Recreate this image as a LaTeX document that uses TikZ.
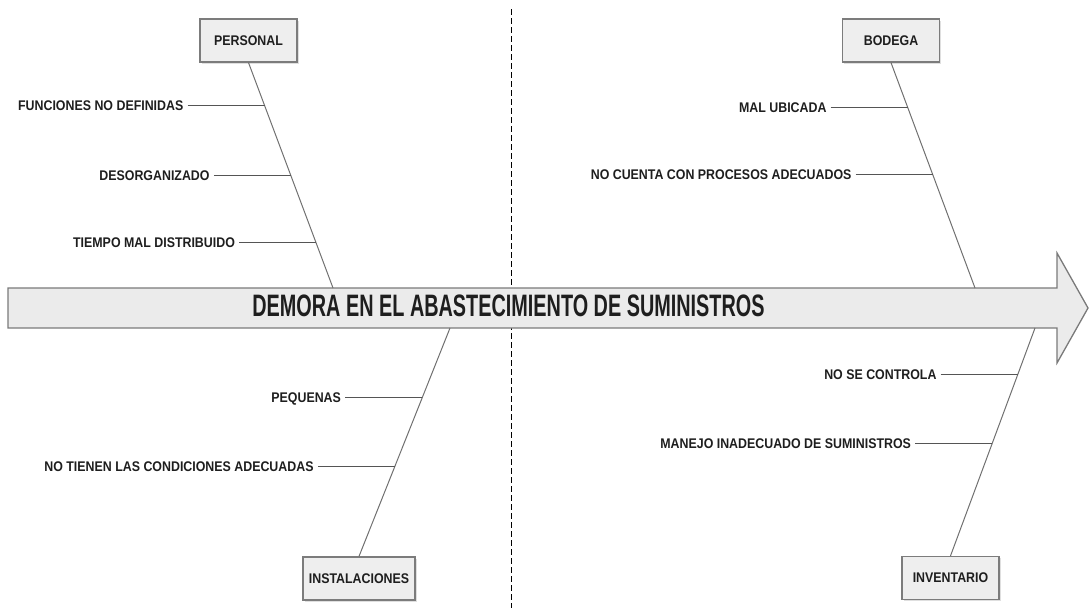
\documentclass[tikz,border=0pt]{standalone}
\usepackage{fontspec}
\setmainfont{Liberation Sans}
\newfontfamily\lblfont{Liberation Sans}[FakeStretch=0.885]
\newfontfamily\ttlfont{Liberation Sans}[FakeStretch=0.64]
\usetikzlibrary{calc,shadows}
\definecolor{txt}{HTML}{1E1E1E}
\definecolor{boxfill}{HTML}{EEEEEE}
\definecolor{boxline}{HTML}{7C7C7C}
\definecolor{arrowfill}{HTML}{EBEBEB}
\definecolor{arrowline}{HTML}{7A7A7A}
\definecolor{bonecol}{HTML}{707070}
\definecolor{ribcol}{HTML}{555555}
\begin{document}
\begin{tikzpicture}[x=1pt,y=-1pt,
  lblfnt/.style={font=\lblfont\bfseries\fontsize{14}{16}\selectfont, text=txt},
  catbox/.style={lblfnt, draw=boxline, line width=1.3pt, fill=boxfill,
    minimum height=43pt, minimum width=97pt, inner sep=0pt,
    drop shadow={shadow xshift=1.5pt, shadow yshift=-1.5pt, opacity=0.25}},
  causelbl/.style={lblfnt, anchor=east, inner xsep=4pt, inner ysep=0pt,
    text height=10pt, text depth=0pt},
  bone/.style={draw=bonecol, line width=1pt},
  rib/.style={draw=ribcol, line width=1pt},
  axisline/.style={draw=black, line width=1pt, dash pattern=on 6pt off 3pt},
  arrowbody/.style={fill=arrowfill, draw=arrowline, line width=1.3pt, line join=miter},
  titlelbl/.style={font=\ttlfont\bfseries\fontsize{31}{34}\selectfont, text=txt, inner sep=0pt}]
\useasboundingbox (0,0) rectangle (1089,608);
% dashed divider
\coordinate (dtop) at (511,9);
\coordinate (dbot) at (511,608);
\draw[axisline] (dtop) -- (dbot);
% main arrow
\filldraw[arrowbody] (8,288) -- (1057,288) -- (1057,253) -- (1088,308) -- (1057,363) -- (1057,328) -- (8,328) -- cycle;
\node[titlelbl] (effect) at (508.5,306) {DEMORA EN EL ABASTECIMIENTO DE SUMINISTROS};
% category boxes
\node[catbox] (personal) at (248.5,40.5) {PERSONAL};
\node[catbox] (bodega) at (891,40.5) {BODEGA};
\node[catbox, minimum width=112pt] (instal) at (359,578.5) {INSTALACIONES};
\node[catbox] (invent) at (950.5,578) {INVENTARIO};
% junctions on the spine
\coordinate (jp) at (333,288);
\coordinate (jb) at (975,288);
\coordinate (ji) at (450,328);
\coordinate (jv) at (1035,328);
% bones
\draw[bone] (personal.south) -- (jp);
\draw[bone] (bodega.south) -- (jb);
\draw[bone] (instal.north) -- (ji);
\draw[bone] (invent.north) -- (jv);
% PERSONAL causes
\coordinate (p1) at ($(personal.south)!0.19!(jp)$);
\coordinate (p2) at ($(personal.south)!0.50!(jp)$);
\coordinate (p3) at ($(personal.south)!0.80!(jp)$);
\node[causelbl] (c1) at ($(p1)+(-77,0)$) {FUNCIONES NO DEFINIDAS};
\node[causelbl] (c2) at ($(p2)+(-77,0)$) {DESORGANIZADO};
\node[causelbl] (c3) at ($(p3)+(-77,0)$) {TIEMPO MAL DISTRIBUIDO};
\draw[rib] (c1.east) -- (p1);
\draw[rib] (c2.east) -- (p2);
\draw[rib] (c3.east) -- (p3);
% BODEGA causes
\coordinate (b1) at ($(bodega.south)!0.199!(jb)$);
\coordinate (b2) at ($(bodega.south)!0.496!(jb)$);
\node[causelbl] (d1) at ($(b1)+(-77,0)$) {MAL UBICADA};
\node[causelbl] (d2) at ($(b2)+(-77,0)$) {NO CUENTA CON PROCESOS ADECUADOS};
\draw[rib] (d1.east) -- (b1);
\draw[rib] (d2.east) -- (b2);
% INSTALACIONES causes
\coordinate (i1) at ($(instal.north)!0.694!(ji)$);
\coordinate (i2) at ($(instal.north)!0.393!(ji)$);
\node[causelbl] (e1) at ($(i1)+(-77,0)$) {PEQUENAS};
\node[causelbl] (e2) at ($(i2)+(-77,0)$) {NO TIENEN LAS CONDICIONES ADECUADAS};
\draw[rib] (e1.east) -- (i1);
\draw[rib] (e2.east) -- (i2);
% INVENTARIO causes
\coordinate (v1) at ($(invent.north)!0.795!(jv)$);
\coordinate (v2) at ($(invent.north)!0.493!(jv)$);
\node[causelbl] (f1) at ($(v1)+(-77,0)$) {NO SE CONTROLA};
\node[causelbl] (f2) at ($(v2)+(-77,0)$) {MANEJO INADECUADO DE SUMINISTROS};
\draw[rib] (f1.east) -- (v1);
\draw[rib] (f2.east) -- (v2);
\end{tikzpicture}
\end{document}
